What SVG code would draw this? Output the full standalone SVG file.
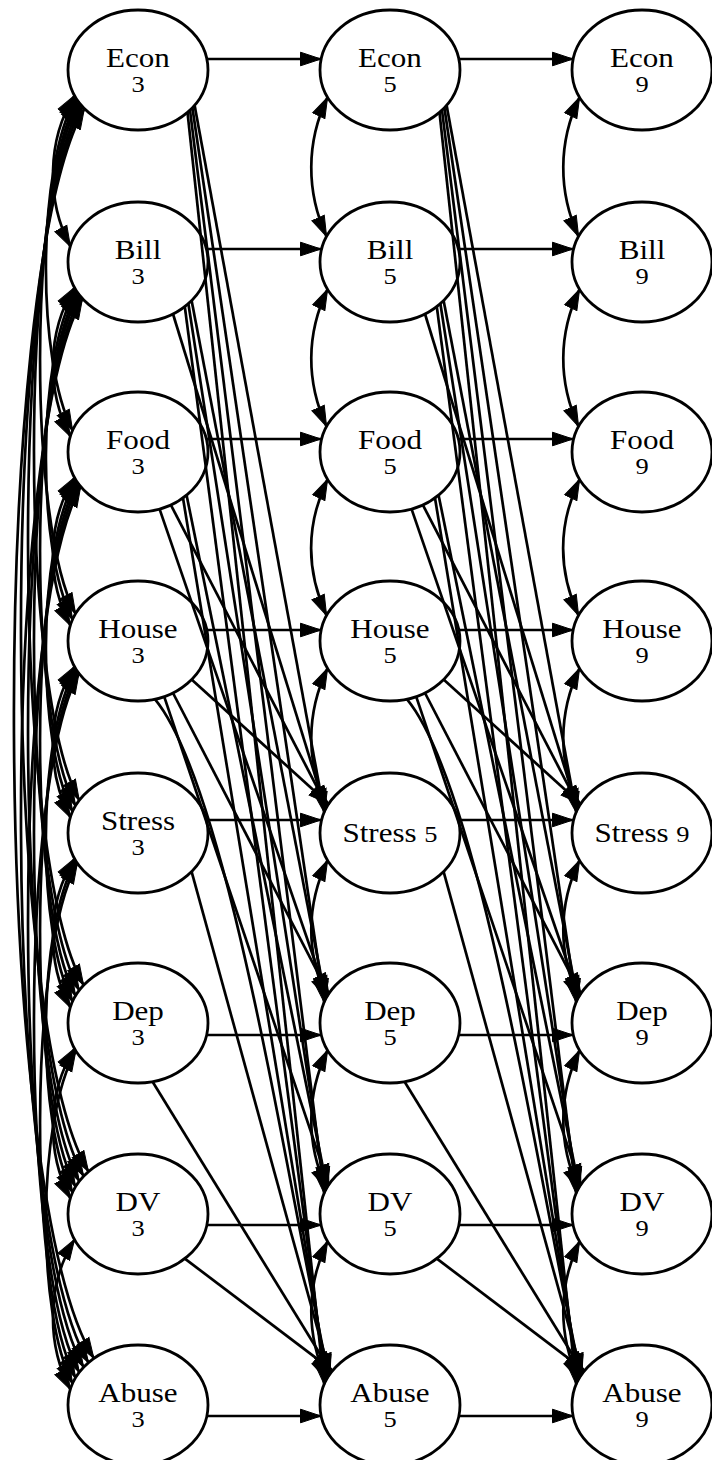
<svg xmlns="http://www.w3.org/2000/svg" width="712" height="1460" viewBox="0 0 712 1460">
<defs>
<marker id="ah" viewBox="0 0 22 16" refX="21" refY="8" markerWidth="22" markerHeight="16" markerUnits="userSpaceOnUse" orient="auto-start-reverse"><path d="M0.5,1.2 L21,8 L0.5,14.8 z" fill="#000" stroke="#000" stroke-width="1"/></marker>
<style>
.n ellipse{fill:#fff;stroke:#000;stroke-width:2.8}
.t{font-family:"Liberation Serif","Times New Roman",serif;font-size:27px;text-anchor:middle;fill:#000}
.s{font-size:23px}
.e path{fill:none;stroke:#000;stroke-width:2.7;marker-end:url(#ah)}
.e path.b{marker-start:url(#ah)}
</style>
</defs>
<rect width="712" height="1460" fill="#fff"/>
<g id="nodes">
<g id="Econ3" class="n"><ellipse cx="138" cy="70" rx="70" ry="60"/><text class="t" transform="translate(138 67) scale(1.15 1)">Econ</text><text class="t s" transform="translate(138 92) scale(1.15 1)">3</text></g>
<g id="Bill3" class="n"><ellipse cx="138" cy="262" rx="70" ry="60"/><text class="t" transform="translate(138 259) scale(1.15 1)">Bill</text><text class="t s" transform="translate(138 284) scale(1.15 1)">3</text></g>
<g id="Food3" class="n"><ellipse cx="138" cy="452" rx="70" ry="60"/><text class="t" transform="translate(138 449) scale(1.15 1)">Food</text><text class="t s" transform="translate(138 474) scale(1.15 1)">3</text></g>
<g id="House3" class="n"><ellipse cx="138" cy="641" rx="70" ry="60"/><text class="t" transform="translate(138 638) scale(1.15 1)">House</text><text class="t s" transform="translate(138 663) scale(1.15 1)">3</text></g>
<g id="Stress3" class="n"><ellipse cx="138" cy="833" rx="70" ry="60"/><text class="t" transform="translate(138 830) scale(1.15 1)">Stress</text><text class="t s" transform="translate(138 855) scale(1.15 1)">3</text></g>
<g id="Dep3" class="n"><ellipse cx="138" cy="1023" rx="70" ry="60"/><text class="t" transform="translate(138 1020) scale(1.15 1)">Dep</text><text class="t s" transform="translate(138 1045) scale(1.15 1)">3</text></g>
<g id="DV3" class="n"><ellipse cx="138" cy="1214" rx="70" ry="60"/><text class="t" transform="translate(138 1211) scale(1.15 1)">DV</text><text class="t s" transform="translate(138 1236) scale(1.15 1)">3</text></g>
<g id="Abuse3" class="n"><ellipse cx="138" cy="1405" rx="70" ry="60"/><text class="t" transform="translate(138 1402) scale(1.15 1)">Abuse</text><text class="t s" transform="translate(138 1427) scale(1.15 1)">3</text></g>

<g id="Econ5" class="n"><ellipse cx="390" cy="70" rx="70" ry="60"/><text class="t" transform="translate(390 67) scale(1.15 1)">Econ</text><text class="t s" transform="translate(390 92) scale(1.15 1)">5</text></g>
<g id="Bill5" class="n"><ellipse cx="390" cy="262" rx="70" ry="60"/><text class="t" transform="translate(390 259) scale(1.15 1)">Bill</text><text class="t s" transform="translate(390 284) scale(1.15 1)">5</text></g>
<g id="Food5" class="n"><ellipse cx="390" cy="452" rx="70" ry="60"/><text class="t" transform="translate(390 449) scale(1.15 1)">Food</text><text class="t s" transform="translate(390 474) scale(1.15 1)">5</text></g>
<g id="House5" class="n"><ellipse cx="390" cy="641" rx="70" ry="60"/><text class="t" transform="translate(390 638) scale(1.15 1)">House</text><text class="t s" transform="translate(390 663) scale(1.15 1)">5</text></g>
<g id="Stress5" class="n"><ellipse cx="390" cy="833" rx="70" ry="60"/><text class="t" transform="translate(390 842) scale(1.15 1)">Stress <tspan class="s">5</tspan></text></g>
<g id="Dep5" class="n"><ellipse cx="390" cy="1023" rx="70" ry="60"/><text class="t" transform="translate(390 1020) scale(1.15 1)">Dep</text><text class="t s" transform="translate(390 1045) scale(1.15 1)">5</text></g>
<g id="DV5" class="n"><ellipse cx="390" cy="1214" rx="70" ry="60"/><text class="t" transform="translate(390 1211) scale(1.15 1)">DV</text><text class="t s" transform="translate(390 1236) scale(1.15 1)">5</text></g>
<g id="Abuse5" class="n"><ellipse cx="390" cy="1405" rx="70" ry="60"/><text class="t" transform="translate(390 1402) scale(1.15 1)">Abuse</text><text class="t s" transform="translate(390 1427) scale(1.15 1)">5</text></g>

<g id="Econ9" class="n"><ellipse cx="642" cy="70" rx="70" ry="60"/><text class="t" transform="translate(642 67) scale(1.15 1)">Econ</text><text class="t s" transform="translate(642 92) scale(1.15 1)">9</text></g>
<g id="Bill9" class="n"><ellipse cx="642" cy="262" rx="70" ry="60"/><text class="t" transform="translate(642 259) scale(1.15 1)">Bill</text><text class="t s" transform="translate(642 284) scale(1.15 1)">9</text></g>
<g id="Food9" class="n"><ellipse cx="642" cy="452" rx="70" ry="60"/><text class="t" transform="translate(642 449) scale(1.15 1)">Food</text><text class="t s" transform="translate(642 474) scale(1.15 1)">9</text></g>
<g id="House9" class="n"><ellipse cx="642" cy="641" rx="70" ry="60"/><text class="t" transform="translate(642 638) scale(1.15 1)">House</text><text class="t s" transform="translate(642 663) scale(1.15 1)">9</text></g>
<g id="Stress9" class="n"><ellipse cx="642" cy="833" rx="70" ry="60"/><text class="t" transform="translate(642 842) scale(1.15 1)">Stress <tspan class="s">9</tspan></text></g>
<g id="Dep9" class="n"><ellipse cx="642" cy="1023" rx="70" ry="60"/><text class="t" transform="translate(642 1020) scale(1.15 1)">Dep</text><text class="t s" transform="translate(642 1045) scale(1.15 1)">9</text></g>
<g id="DV9" class="n"><ellipse cx="642" cy="1214" rx="70" ry="60"/><text class="t" transform="translate(642 1211) scale(1.15 1)">DV</text><text class="t s" transform="translate(642 1236) scale(1.15 1)">9</text></g>
<g id="Abuse9" class="n"><ellipse cx="642" cy="1405" rx="70" ry="60"/><text class="t" transform="translate(642 1402) scale(1.15 1)">Abuse</text><text class="t s" transform="translate(642 1427) scale(1.15 1)">9</text></g>
</g>

<g id="edges" class="e">
<!-- horizontal autoregressive -->
<path d="M207,59 L321,59"/><path d="M207,249 L321,249"/><path d="M207,439 L321,439"/><path d="M207,630 L321,630"/>
<path d="M207,820 L321,820"/><path d="M207,1035 L321,1035"/><path d="M207,1225 L321,1225"/><path d="M207,1416 L321,1416"/>
<path d="M459,59 L573,59"/><path d="M459,249 L573,249"/><path d="M459,439 L573,439"/><path d="M459,630 L573,630"/>
<path d="M459,820 L573,820"/><path d="M459,1035 L573,1035"/><path d="M459,1225 L573,1225"/><path d="M459,1416 L573,1416"/>

<!-- column 1 within-wave -->
<path class="b" d="M74.6,95.4 C46.5,140.4 46.5,201.5 70.4,246.5"/>
<path class="b" d="M74.6,287.4 C46.5,332.4 46.5,391.5 70.4,436.5"/>
<path class="b" d="M74.6,477.4 C46.5,522.4 46.5,580.5 70.4,625.5"/>
<path class="b" d="M74.6,666.4 C46.5,711.4 46.5,772.5 70.4,817.5"/>
<path class="b" d="M74.6,858.4 C46.5,903.4 46.5,962.5 70.4,1007.5"/>
<path class="b" d="M74.6,1048.4 C46.5,1093.4 46.5,1153.5 70.4,1198.5"/>
<path class="b" d="M74.6,1239.4 C46.5,1284.4 46.5,1344.5 70.4,1389.5"/>
<path class="b" d="M75.9,97.7 C36.5,167.7 36.5,360.5 72.6,430.5"/>
<path class="b" d="M75.9,289.7 C36.5,359.7 36.5,549.5 72.6,619.5"/>
<path class="b" d="M75.9,479.7 C36.5,549.7 36.5,741.5 72.6,811.5"/>
<path class="b" d="M75.9,668.7 C36.5,738.7 36.5,931.5 72.6,1001.5"/>
<path class="b" d="M75.9,860.7 C36.5,930.7 36.5,1122.5 72.6,1192.5"/>
<path class="b" d="M75.9,1050.7 C36.5,1120.7 36.5,1313.5 72.6,1383.5"/>
<path class="b" d="M77.4,100 C27.9,190 27.9,523.8 75.6,613.8"/>
<path class="b" d="M77.4,292 C27.9,382 27.9,715.8 75.6,805.8"/>
<path class="b" d="M77.4,482 C27.9,572 27.9,905.8 75.6,995.8"/>
<path class="b" d="M77.4,671 C27.9,761 27.9,1096.8 75.6,1186.8"/>
<path class="b" d="M77.4,863 C27.9,953 27.9,1287.8 75.6,1377.8"/>
<path class="b" d="M79,102.2 C18.9,212.2 18.9,690.3 79.3,800.3"/>
<path class="b" d="M79,294.2 C18.9,404.2 18.9,880.3 79.3,990.3"/>
<path class="b" d="M79,484.2 C18.9,594.2 18.9,1071.3 79.3,1181.3"/>
<path class="b" d="M79,673.2 C18.9,783.2 18.9,1262.3 79.3,1372.3"/>
<path class="b" d="M80.7,104.4 C10,234.4 10,855.2 83.6,985.2"/>
<path class="b" d="M80.7,296.4 C10,426.4 10,1046.2 83.6,1176.2"/>
<path class="b" d="M80.7,486.4 C10,616.4 10,1237.2 83.6,1367.2"/>
<path class="b" d="M82.5,106.5 C-0.5,256.5 -0.5,1021.6 88.5,1171.6"/>
<path class="b" d="M82.5,298.5 C-0.5,448.5 -0.5,1212.6 88.5,1362.6"/>
<path class="b" d="M84.4,108.6 C-11.1,278.6 -11.1,1188.4 93.9,1358.4"/>

<!-- column 2 adjacent -->
<path class="b" d="M327.6,97.2 C306,142.2 306,191.6 326.6,236.6"/>
<path class="b" d="M327.6,289.2 C306,334.2 306,381.6 326.6,426.6"/>
<path class="b" d="M327.6,479.2 C306,524.2 306,570.6 326.6,615.6"/>
<path class="b" d="M327.6,668.2 C306,713.2 306,762.6 326.6,807.6"/>
<path class="b" d="M327.6,860.2 C306,905.2 306,952.6 326.6,997.6"/>
<path class="b" d="M327.6,1050.2 C306,1095.2 306,1143.6 326.6,1188.6"/>
<path class="b" d="M327.6,1241.2 C306,1286.2 306,1334.6 326.6,1379.6"/>
<!-- column 3 adjacent -->
<path class="b" d="M579.6,97.2 C558,142.2 558,191.6 578.6,236.6"/>
<path class="b" d="M579.6,289.2 C558,334.2 558,381.6 578.6,426.6"/>
<path class="b" d="M579.6,479.2 C558,524.2 558,570.6 578.6,615.6"/>
<path class="b" d="M579.6,668.2 C558,713.2 558,762.6 578.6,807.6"/>
<path class="b" d="M579.6,860.2 C558,905.2 558,952.6 578.6,997.6"/>
<path class="b" d="M579.6,1050.2 C558,1095.2 558,1143.6 578.6,1188.6"/>
<path class="b" d="M579.6,1241.2 C558,1286.2 558,1334.6 578.6,1379.6"/>

<!-- cross-lagged wave 3 -> 5 -->
<path d="M194.6,105.3 L324.2,812.5"/>
<path d="M192.4,107.8 L324.2,1002.5"/>
<path d="M190,110.1 L324.2,1193.5"/>
<path d="M187.5,112.4 L324.2,1384.5"/>
<path d="M173,314 L325.6,809.6"/>
<path d="M191.6,300.6 L325.6,999.6"/>
<path d="M188.4,303.7 L325.6,1190.6"/>
<path d="M184.8,306.6 L325.6,1381.6"/>
<path d="M170.9,505 L327.1,806.7"/>
<path d="M159.6,509.1 L327.1,996.7"/>
<path d="M186.6,495.2 L327.1,1187.7"/>
<path d="M183,498 L327.1,1378.7"/>
<path d="M191.6,679.6 L328.8,803.9"/>
<path d="M173,693 L328.8,993.9"/>
<path d="M164.2,696.6 L328.8,1184.9"/>
<path d="M154.9,699.2 C230,790 290,1200 328.8,1375.9"/>
<path d="M191.6,871.6 L330,1374.1"/>
<path d="M152.6,1081.7 L331.3,1372.3"/>
<path d="M184.8,1258.6 L332.7,1370.6"/>

<!-- cross-lagged wave 5 -> 9 -->
<path d="M446.6,105.3 L576.2,812.5"/>
<path d="M444.4,107.8 L576.2,1002.5"/>
<path d="M442,110.1 L576.2,1193.5"/>
<path d="M439.5,112.4 L576.2,1384.5"/>
<path d="M425,314 L577.6,809.6"/>
<path d="M443.6,300.6 L577.6,999.6"/>
<path d="M440.4,303.7 L577.6,1190.6"/>
<path d="M436.8,306.6 L577.6,1381.6"/>
<path d="M422.9,505 L579.1,806.7"/>
<path d="M411.6,509.1 L579.1,996.7"/>
<path d="M438.6,495.2 L579.1,1187.7"/>
<path d="M435,498 L579.1,1378.7"/>
<path d="M443.6,679.6 L580.8,803.9"/>
<path d="M425,693 L580.8,993.9"/>
<path d="M416.2,696.6 L580.8,1184.9"/>
<path d="M406.9,699.2 C482,790 542,1200 580.8,1375.9"/>
<path d="M443.6,871.6 L582,1374.1"/>
<path d="M404.6,1081.7 L583.3,1372.3"/>
<path d="M436.8,1258.6 L584.7,1370.6"/>
</g>
</svg>
